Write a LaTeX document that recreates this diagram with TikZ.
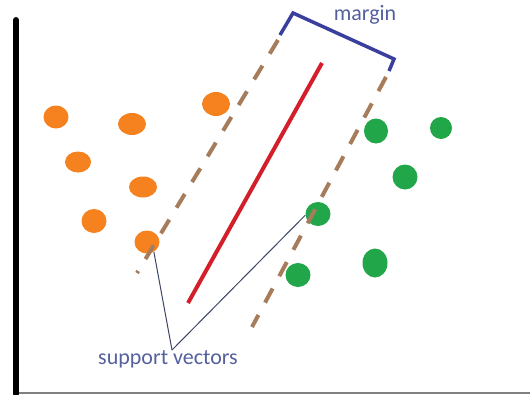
\documentclass[tikz,border=0pt]{standalone}
\usepackage{fontspec}
\setmainfont{Carlito}
\usetikzlibrary{shapes.geometric}
\definecolor{dotorange}{HTML}{F5821F}
\definecolor{dotgreen}{HTML}{22A64A}
\definecolor{dashbrown}{HTML}{A67C5B}
\definecolor{hypred}{HTML}{D41F2B}
\definecolor{brackblue}{HTML}{3A3F9E}
\definecolor{labelblue}{HTML}{55609E}
\definecolor{pointer}{HTML}{3E4466}
\tikzset{
  odot/.style={ellipse, fill=dotorange, inner sep=0pt},
  gdot/.style={ellipse, fill=dotgreen, inner sep=0pt},
  marginline/.style={draw=dashbrown, line width=4pt, dash pattern=on 16pt off 14pt},
  hyper/.style={draw=hypred, line width=4pt},
  bracket/.style={draw=brackblue, line width=3.5pt, line join=miter},
  pointerline/.style={draw=pointer, line width=1pt},
  lbl/.style={text=labelblue, font=\fontsize{22}{26}\selectfont, inner sep=0pt}
}
\begin{document}
\begin{tikzpicture}[x=1pt, y=-1pt]
\useasboundingbox (0,0) rectangle (530,394);
% axes
\draw[black, line width=6pt, line cap=round] (16,20) -- (16,394);
\draw[gray, line width=2pt] (19,393) -- (530,393);
% orange points
\node[odot, minimum width=25pt, minimum height=23pt] (o1) at (56,117) {};
\node[odot, minimum width=28pt, minimum height=22pt] (o2) at (132,124) {};
\node[odot, minimum width=28pt, minimum height=24pt] (o3) at (216,104) {};
\node[odot, minimum width=26pt, minimum height=21pt] (o4) at (78,162) {};
\node[odot, minimum width=28pt, minimum height=21pt] (o5) at (143,187) {};
\node[odot, minimum width=25pt, minimum height=24pt] (o6) at (94,221) {};
\node[odot, minimum width=25pt, minimum height=23pt] (o7) at (147,242) {};
% green points
\node[gdot, minimum width=24pt, minimum height=25pt] (g1) at (376,131) {};
\node[gdot, minimum width=22pt, minimum height=22pt] (g2) at (441,128) {};
\node[gdot, minimum width=25pt, minimum height=25pt] (g3) at (405,177) {};
\node[gdot, minimum width=25pt, minimum height=24pt] (g4) at (318,214) {};
\node[gdot, minimum width=25pt, minimum height=24pt] (g5) at (298,275) {};
\node[gdot, minimum width=25pt, minimum height=29pt] (g6) at (375,263) {};
% hyperplane
\coordinate (h1) at (322,63);
\coordinate (h2) at (188,303);
\draw[hyper] (h1) -- (h2);
% margin lines
\coordinate (dl1) at (278,40);
\coordinate (dl2) at (137,273);
\coordinate (dr1) at (386,77);
\coordinate (dr2) at (252,327);
\draw[marginline] (dl1) -- (dl2);
\draw[marginline] (dr1) -- (dr2);
% margin bracket
\coordinate (m1) at (280,35);
\coordinate (m2) at (293,13);
\coordinate (m3) at (394,59);
\coordinate (m4) at (389,71);
\draw[bracket] (m1) -- (m2) -- (m3) -- (m4);
\node[lbl] (mlabel) at (365,15) {margin};
% support vectors label
\node[lbl] (svlabel) at (168,359) {support vectors};
\coordinate (apex) at (172,350);
\draw[pointerline] (apex) -- (o7.-55);
\draw[pointerline] (apex) -- (g4.185);
\end{tikzpicture}
\end{document}
